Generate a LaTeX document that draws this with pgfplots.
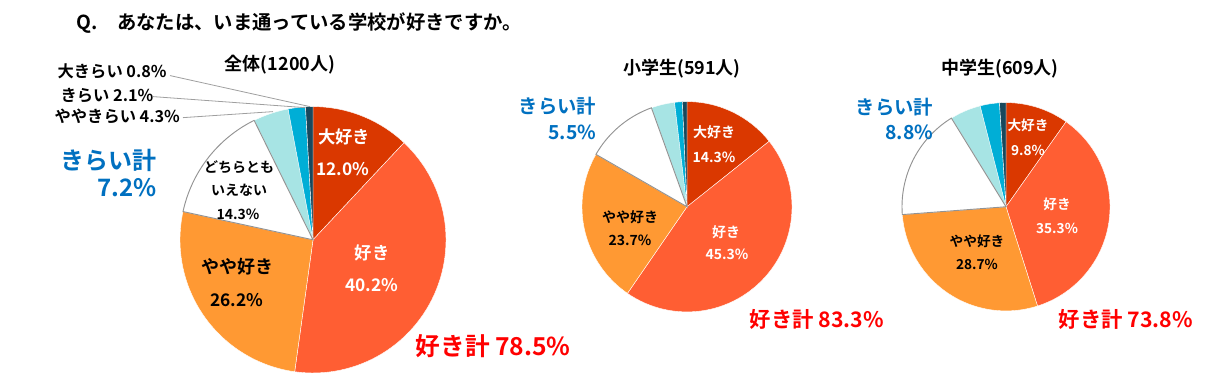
\documentclass[border=0pt]{standalone}
\usepackage{pgfplots}
\pgfplotsset{compat=1.18}
\usepackage{fontspec}
\setmainfont{Noto Sans CJK JP}[BoldFont={Noto Sans CJK JP Bold}]

\definecolor{daisuki}{RGB}{218,56,0}
\definecolor{suki}{RGB}{255,94,51}
\definecolor{yayasuki}{RGB}{255,153,51}
\definecolor{yayakirai}{RGB}{167,228,228}
\definecolor{kirai}{RGB}{0,174,214}
\definecolor{daikirai}{RGB}{24,72,92}
\definecolor{kblue}{RGB}{0,112,192}
\definecolor{kred}{RGB}{255,0,0}

% slice: cx, cy, r, from %, to %, colour  (clockwise from 12 o'clock)
\newcommand{\slice}[6]{%
  \addplot[fill=#6, draw=white, line width=0.3pt, domain=#4:#5, samples=60, variable=\t]
    ({#1+#3*sin(3.6*\t)},{#2-#3*cos(3.6*\t)}) -- (#1,#2) -- cycle;}
\newcommand{\wslice}[5]{%
  \addplot[fill=white, draw=gray!85, line width=0.7pt, domain=#4:#5, samples=60, variable=\t]
    ({#1+#3*sin(3.6*\t)},{#2-#3*cos(3.6*\t)}) -- (#1,#2) -- cycle;}

\newcommand{\fs}[1]{\fontsize{#1}{#1}\selectfont\bfseries}

\begin{document}
\begin{tikzpicture}
\begin{axis}[
  at={(0,0)}, anchor=south west,
  width=904.5pt, height=291pt, scale only axis,
  xmin=0, xmax=1206, ymin=0, ymax=388, y dir=reverse,
  hide axis, clip=false]

% 全体 (1200人): 12.0 40.2 26.2 14.3 4.3 2.1 0.8
\slice{313}{240}{133}{0}{12.0}{daisuki}
\slice{313}{240}{133}{12.0}{52.2}{suki}
\slice{313}{240}{133}{52.2}{78.4}{yayasuki}
\slice{313}{240}{133}{92.7}{97.0}{yayakirai}
\slice{313}{240}{133}{97.0}{99.1}{kirai}
\slice{313}{240}{133}{99.1}{100}{daikirai}
\wslice{313}{240}{133}{78.4}{92.7}

% 小学生 (591人): 14.3 45.3 23.7 11.2 3.6 1.2 0.7
\slice{687}{207}{105}{0}{14.3}{daisuki}
\slice{687}{207}{105}{14.3}{59.6}{suki}
\slice{687}{207}{105}{59.6}{83.3}{yayasuki}
\slice{687}{207}{105}{94.5}{98.1}{yayakirai}
\slice{687}{207}{105}{98.1}{99.3}{kirai}
\slice{687}{207}{105}{99.3}{100}{daikirai}
\wslice{687}{207}{105}{83.3}{94.5}

% 中学生 (609人): 9.8 35.3 28.7 17.4 4.8 3.0 1.0
\slice{1006}{207}{104}{0}{9.8}{daisuki}
\slice{1006}{207}{104}{9.8}{45.1}{suki}
\slice{1006}{207}{104}{45.1}{73.8}{yayasuki}
\slice{1006}{207}{104}{91.2}{96.0}{yayakirai}
\slice{1006}{207}{104}{96.0}{99.0}{kirai}
\slice{1006}{207}{104}{99.0}{100}{daikirai}
\wslice{1006}{207}{104}{73.8}{91.2}

% title
\node[anchor=west, font=\fs{14.5pt}] at (72,24) {Q.　あなたは、いま通っている学校が好きですか。};

% 全体
\node[font=\fs{13.5pt}] at (280,65) {全体(1200人)};
\node[anchor=west, font=\fs{12.2pt}] at (53,72) {大きらい 0.8\%};
\node[anchor=west, font=\fs{12.2pt}] at (56,96) {きらい 2.1\%};
\node[anchor=west, font=\fs{12.2pt}] at (50,117) {ややきらい 4.3\%};
\draw[gray!75, line width=0.6pt] (170,76) -- (310,107);
\draw[gray!75, line width=0.6pt] (153,97) -- (305,108);
\draw[gray!75, line width=0.6pt] (183,118) -- (273,112);
\node[anchor=east, text=kblue, font=\fs{18pt}] at (161,161) {きらい計};
\node[anchor=east, text=kblue, font=\fs{18pt}] at (161,188) {7.2\%};
\node[text=white, font=\fs{13pt}] at (344,137) {大好き};
\node[text=white, font=\fs{13pt}] at (343,169) {12.0\%};
\node[text=white, font=\fs{13pt}] at (372,253) {好き};
\node[text=white, font=\fs{13pt}] at (372,285) {40.2\%};
\node[font=\fs{13.5pt}] at (237,267) {やや好き};
\node[font=\fs{13pt}] at (237,300) {26.2\%};
\node[font=\fs{10.5pt}] at (239,167) {どちらとも};
\node[font=\fs{10.5pt}] at (239,190) {いえない};
\node[font=\fs{10.5pt}] at (238,215) {14.3\%};
\node[anchor=west, text=kred, font=\fs{18.5pt}] at (411,346) {好き計 78.5\%};

% 小学生
\node[font=\fs{13.5pt}] at (682,69) {小学生(591人)};
\node[anchor=east, text=kblue, font=\fs{14.5pt}] at (601,107) {きらい計};
\node[anchor=east, text=kblue, font=\fs{14.5pt}] at (601,133) {5.5\%};
\node[text=white, font=\fs{10.5pt}] at (714,133) {大好き};
\node[text=white, font=\fs{10.5pt}] at (714,158) {14.3\%};
\node[text=white, font=\fs{10.5pt}] at (726,232) {好き};
\node[text=white, font=\fs{10.5pt}] at (727,255) {45.3\%};
\node[font=\fs{10.5pt}] at (630,217) {やや好き};
\node[font=\fs{10.5pt}] at (630,241) {23.7\%};
\node[anchor=west, text=kred, font=\fs{16pt}] at (745,320) {好き計 83.3\%};

% 中学生
\node[font=\fs{13.5pt}] at (1000,69) {中学生(609人)};
\node[anchor=east, text=kblue, font=\fs{14.5pt}] at (938,108) {きらい計};
\node[anchor=east, text=kblue, font=\fs{14.5pt}] at (938,133) {8.8\%};
\node[text=white, font=\fs{10.25pt}] at (1028,126) {大好き};
\node[text=white, font=\fs{10.25pt}] at (1028,151) {9.8\%};
\node[text=white, font=\fs{10.25pt}] at (1057,205) {好き};
\node[text=white, font=\fs{10.25pt}] at (1057,229) {35.3\%};
\node[font=\fs{10.25pt}] at (977,242) {やや好き};
\node[font=\fs{10.25pt}] at (977,265) {28.7\%};
\node[anchor=west, text=kred, font=\fs{16pt}] at (1054,320) {好き計 73.8\%};

\end{axis}
\pgfresetboundingbox
\path[use as bounding box] (0,0) rectangle (904.5pt,291pt);
\end{tikzpicture}
\end{document}
